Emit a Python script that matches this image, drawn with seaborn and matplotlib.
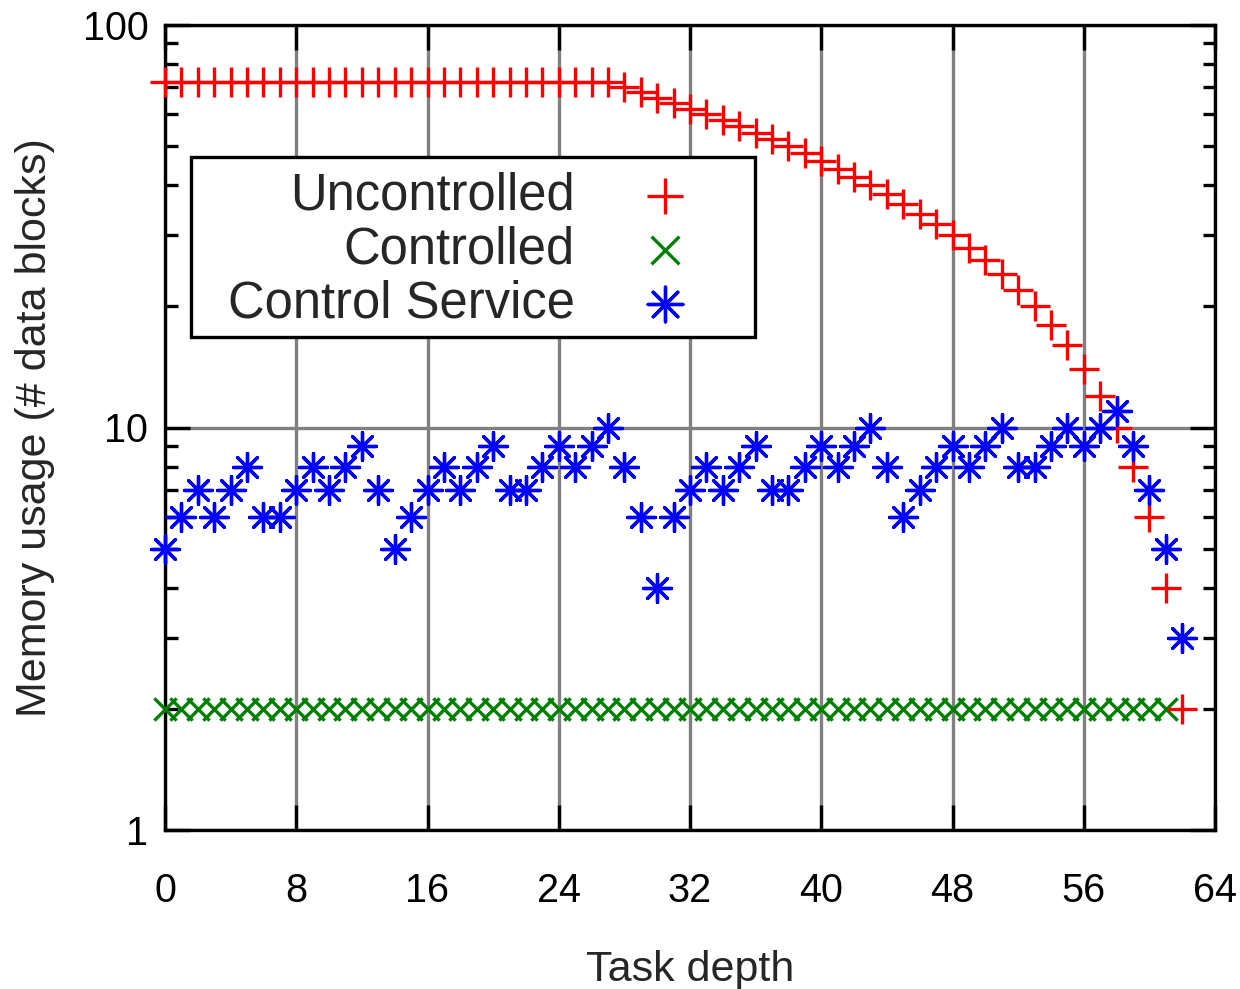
import numpy as np
import pandas as pd
import seaborn as sns
import matplotlib.pyplot as plt
from matplotlib.patches import Rectangle
from matplotlib.ticker import FixedLocator, NullFormatter

# data
depth = list(range(0, 63))
uncontrolled = [72] * 28 + [70, 68, 66, 64, 62, 60, 58, 56, 54, 52, 50, 48, 46, 44, 42,
                            40, 38, 36, 34, 32, 30, 28, 26, 24, 22, 20, 18, 16, 14, 12,
                            10, 8, 6, 4, 2]
controlled = [2] * 62
service = [5, 6, 7, 6, 7, 8, 6, 6, 7, 8, 7, 8, 9, 7, 5, 6, 7, 8, 7, 8, 9, 7, 7, 8, 9, 8,
           9, 10, 8, 6, 4, 6, 7, 8, 7, 8, 9, 7, 7, 8, 9, 8, 9, 10, 8, 6, 7, 8, 9, 8, 9,
           10, 8, 8, 9, 10, 9, 10, 11, 9, 7, 5, 3]
x_ticks = [0, 8, 16, 24, 32, 40, 48, 56, 64]
y_ticks = [1, 10, 100]
y_tick_labels = ["1", "10", "100"]

sns.set_style("ticks")
plt.rcParams['font.family'] = ['Liberation Sans', 'DejaVu Sans']

fig, ax = plt.subplots(figsize=(12.4, 9.89), dpi=100)
fig.subplots_adjust(left=165/1240, right=1215/1240, bottom=1-830/989, top=1-25/989)

lw = 2.4
sns.scatterplot(x=depth[:62], y=controlled, marker="x", s=16**2, color="#008000",
                linewidth=lw, ax=ax, zorder=3, clip_on=False, label="Controlled")
sns.scatterplot(x=depth, y=uncontrolled, marker="+", s=21**2, color="red",
                linewidth=lw, ax=ax, zorder=4, clip_on=False, label="Uncontrolled")
sns.scatterplot(x=depth, y=service, marker=(8, 2, 0), s=20**2, color="blue",
                edgecolor="blue", linewidth=lw, ax=ax, zorder=5, clip_on=False,
                label="Control Service")

ax.set_yscale("log")
ax.set_xlim(0, 64)
ax.set_ylim(1, 100)
ax.set_xticks(x_ticks)
ax.set_yticks(y_ticks)
ax.set_yticklabels(y_tick_labels)
ax.yaxis.set_minor_locator(FixedLocator([v * d for d in (1, 10) for v in range(2, 10)]))
ax.yaxis.set_minor_formatter(NullFormatter())

ax.grid(True, which="major", color="#808080", linewidth=2.4)
ax.set_axisbelow(True)
for s in ax.spines.values():
    s.set_linewidth(2.4)
    s.set_color("black")
ax.tick_params(which="both", direction="in", top=True, right=True, width=2.4,
               labelsize=28.5, colors="black")
ax.tick_params(which="major", length=18)
ax.tick_params(which="minor", length=9)
ax.tick_params(axis="x", pad=30)
ax.tick_params(axis="y", pad=12)

ax.set_xlabel("Task depth", fontsize=31, labelpad=29)
ax.set_ylabel("Memory usage (# data blocks)", fontsize=31, labelpad=20)

# legend box (gnuplot style: text right aligned, sample at right)
box = Rectangle(((191-165)/1050, (830-337)/805), (755-191)/1050, 180/805,
                transform=ax.transAxes, facecolor="white", edgecolor="black",
                linewidth=2.4, zorder=6)
ax.add_patch(box)

handles, labels = ax.get_legend_handles_labels()
order = [labels.index(n) for n in ["Uncontrolled", "Controlled", "Control Service"]]
leg = ax.legend([handles[i] for i in order], [labels[i] for i in order],
                loc="upper left", bbox_to_anchor=((228-165)/1050, (830-171)/805),
                markerfirst=False, fontsize=36.5, frameon=False, markerscale=1.25,
                handlelength=1.0, handletextpad=1.28,
                labelspacing=0.1, borderpad=0, borderaxespad=0)
leg.set_zorder(7)
for t in leg.get_texts():
    t.set_ha("right")

fig.savefig("out.png", dpi=100)
